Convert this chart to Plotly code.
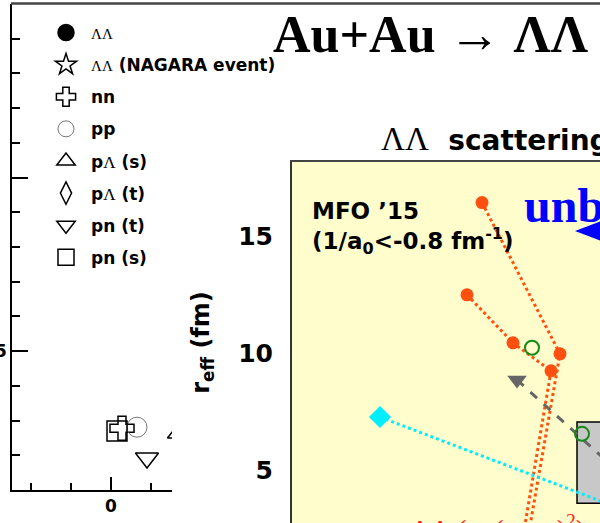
import plotly.graph_objects as go

# ---------------- left panel data (1/a0 in fm^-1, r_eff in fm) ----------------
left_names = ["LL", "LL_NAGARA", "nn", "pp", "pL_s", "pL_t", "pn_t", "pn_s"]
left_labels = [
    '<span style="font-family:Liberation Serif;font-weight:normal;font-size:15px">ΛΛ</span>',
    '<span style="font-family:Liberation Serif;font-weight:normal;font-size:15px">ΛΛ</span> (NAGARA event)',
    "nn",
    "pp",
    'p<span style="font-family:Liberation Serif;font-weight:normal">Λ</span> (s)',
    'p<span style="font-family:Liberation Serif;font-weight:normal">Λ</span> (t)',
    "pn (t)",
    "pn (s)",
]
left_symbols = ["circle", "star-open", "cross-open", "circle-open", "triangle-up-open",
                "diamond-tall-open", "triangle-down-open", "square-open"]
# points beyond x = 0.3 lie behind the inset in the reference
left_x = [[0.9, 1.3], [1.55], [0.055], [0.13], [0.34], [0.56], [0.18], [0.03]]
left_y = [[6.6, 7.5], [6.45], [2.78], [2.81], [2.64], [3.2], [1.92], [2.70]]
left_ytick_vals = [5, 10, 15]
left_ytick_text = ["5", "", ""]

# ---------------- inset data (1/a0, r_eff) ----------------
mfo_a_x = [-1.05, -0.66, -0.84]
mfo_a_y = [16.46, 9.98, 1.14]
mfo_b_x = [-1.125, -0.895, -0.705, -0.865]
mfo_b_y = [12.51, 10.45, 9.25, 1.14]
green_x = [-0.80, -0.55]
green_y = [10.24, 6.55]
gray_x = [-0.875, -0.21]
gray_y = [8.86, 3.71]
cyan_x = [-1.56, 0.04]
cyan_y = [7.27, 2.05]
box_x = [-0.575, 0.3]
box_y = [3.58, 7.06]
inset_ytick_vals = [5, 10, 15]

W, H = 600, 523
fig = go.Figure()

for i, n in enumerate(left_names):
    sym = left_symbols[i]
    col = "black"
    if n == "pp":
        col = "#777777"
    fig.add_trace(go.Scatter(
        x=left_x[i], y=left_y[i], mode="markers", name=left_labels[i],
        legendgroup=n, xaxis="x", yaxis="y",
        marker=dict(symbol=sym, size=20, color=col,
                    line=dict(color=col, width=1.5 if n != "pp" else 1)),
    ))

orange = "#FF5010"
fig.add_trace(go.Scatter(x=mfo_a_x, y=mfo_a_y, mode="lines+markers", xaxis="x2", yaxis="y2",
                         showlegend=False, line=dict(color=orange, width=3, dash="dot"),
                         marker=dict(size=13, color=orange)))
fig.add_trace(go.Scatter(x=mfo_b_x, y=mfo_b_y, mode="lines+markers", xaxis="x2", yaxis="y2",
                         showlegend=False, line=dict(color=orange, width=3, dash="dot"),
                         marker=dict(size=13, color=orange)))
fig.add_trace(go.Scatter(x=gray_x, y=gray_y, mode="lines+markers", xaxis="x2", yaxis="y2",
                         showlegend=False, line=dict(color="#666666", width=3, dash="dash"),
                         marker=dict(size=17, symbol="triangle-down", color="#666666")))
fig.add_trace(go.Scatter(x=cyan_x, y=cyan_y, mode="lines+markers", xaxis="x2", yaxis="y2",
                         showlegend=False, line=dict(color="#00EEFF", width=3, dash="dot"),
                         marker=dict(size=17, symbol="diamond", color="#00EEFF")))
fig.add_trace(go.Scatter(x=green_x, y=green_y, mode="markers", xaxis="x2", yaxis="y2",
                         showlegend=False,
                         marker=dict(size=14, symbol="circle-open", color="#158A15",
                                     line=dict(width=2, color="#158A15"))))

def px(xp):
    return xp / W

def py(yp):
    return 1 - yp / H

bold = "DejaVu Sans"

fig.update_layout(
    width=W, height=H,
    margin=dict(l=0, r=0, t=0, b=0, autoexpand=False),
    paper_bgcolor="white", plot_bgcolor="white",
    showlegend=True,
    legend=dict(x=px(41), y=py(15), xanchor="left", yanchor="top",
                font=dict(family=bold, size=17, color="black", weight="bold"),
                bgcolor="rgba(0,0,0,0)", tracegroupgap=7, itemsizing="trace", itemwidth=40),
    xaxis=dict(domain=[px(12), px(172)], range=[-0.495, 0.305], showgrid=False, zeroline=False,
               showline=True, linecolor="black", linewidth=1.5, automargin=False,
               ticks="inside", ticklen=13, tickwidth=1.5, tickcolor="black",
               tick0=0, dtick=1,
               minor=dict(ticks="inside", ticklen=7, dtick=0.2, tickwidth=1.5, tickcolor="black"),
               tickfont=dict(family=bold, size=17, color="black", weight="bold"),
               anchor="y"),
    yaxis=dict(domain=[py(490), py(4)], range=[1, 15], showgrid=False, zeroline=False,
               showline=True, linecolor="black", linewidth=1.5, automargin=False,
               ticks="inside", ticklen=16, tickwidth=1.5, tickcolor="black",
               tickvals=left_ytick_vals, ticktext=left_ytick_text,
               minor=dict(ticks="inside", ticklen=8, dtick=1, tick0=0, tickwidth=1.5,
                          tickcolor="black"),
               tickfont=dict(family=bold, size=17, color="black", weight="bold"),
               anchor="x"),
    xaxis2=dict(domain=[px(292), 1], range=[-2.0, -0.46], showgrid=False, zeroline=False,
                showline=True, side="top", linecolor="#444444", linewidth=2, automargin=False,
                showticklabels=False, ticks="", anchor="y2"),
    yaxis2=dict(domain=[0, py(162)], range=[2.73, 18.2], showgrid=False, zeroline=False,
                showline=True, linecolor="#333333", linewidth=2, automargin=False,
                tickvals=inset_ytick_vals, ticks="", ticklabelstandoff=12,
                tickfont=dict(family=bold, size=25, color="black", weight="bold"),
                title=dict(text="r<sub>eff</sub> (fm)", standoff=22,
                           font=dict(family=bold, size=24, color="black", weight="bold")),
                anchor="x2"),
)

shapes = [
    dict(type="rect", xref="x2 domain", yref="y2 domain", x0=0, x1=1, y0=0, y1=1,
         fillcolor="#FFFDCC", line=dict(width=0), layer="below"),
    dict(type="rect", xref="x2", yref="y2", x0=box_x[0], x1=box_x[1], y0=box_y[0], y1=box_y[1],
         fillcolor="#C8C8C8", line=dict(color="black", width=1.5), layer="below"),
    dict(type="line", xref="paper", yref="paper", x0=px(11), x1=1, y0=py(3.5), y1=py(3.5),
         line=dict(color="#444444", width=2.5)),
    dict(type="path", xref="paper", yref="paper",
         path=f"M {px(575)},{py(231)} L {px(601)},{py(221)} L {px(601)},{py(241)} Z",
         fillcolor="#0000FF", line=dict(width=0)),
]
fig.update_layout(shapes=shapes)

ann = [
    dict(text="Au+Au → ΛΛ", x=px(271), y=py(35), xanchor="left", yanchor="middle",
         font=dict(family="Liberation Serif", size=52, color="black", weight="bold")),
    dict(text='<span style="font-family:Liberation Serif;font-weight:normal;font-size:33px">ΛΛ</span>&nbsp; scattering',
         x=px(379), y=py(139), xanchor="left", yanchor="middle",
         font=dict(family=bold, size=28, color="black", weight="bold")),
    dict(text="MFO ’15<br>(1/a<sub>0</sub>&lt;-0.8 fm<sup>-1</sup>)", x=px(310), y=py(196),
         xanchor="left", yanchor="top", align="left",
         font=dict(family=bold, size=23, color="black", weight="bold")),
    dict(text="unb", x=px(522), y=py(205), xanchor="left", yanchor="middle",
         font=dict(family="Liberation Serif", size=48, color="#0000FF", weight="bold")),
    dict(text="ΛΛ (ρ, (σ err)<sup>2</sup>)", x=px(408), y=py(508), xanchor="left", yanchor="top",
         font=dict(family="Liberation Serif", size=28, color="#FF2020")),
]
for a in ann:
    a.update(xref="paper", yref="paper", showarrow=False)
fig.update_layout(annotations=ann)

fig.write_html("out.html", config={"displayModeBar": False},
               post_script="document.body.style.margin='0px';document.body.style.padding='0px';")
